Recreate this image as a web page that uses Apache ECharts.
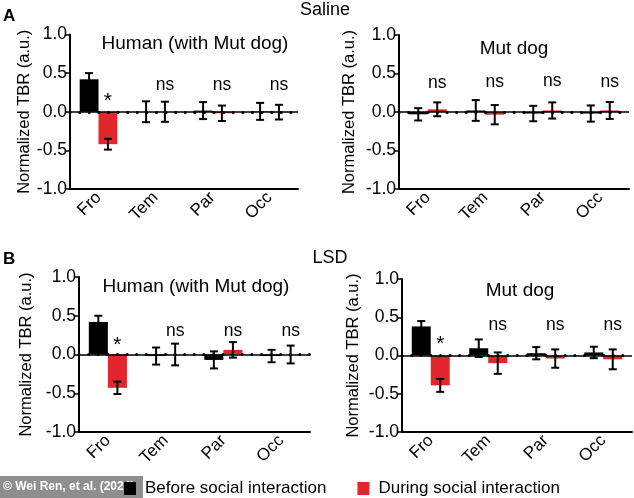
<!DOCTYPE html>
<html><head><meta charset="utf-8">
<script src="https://cdn.jsdelivr.net/npm/echarts@6/dist/echarts.min.js"></script>
<style>html,body{margin:0;padding:0;background:#fff}#c{width:634px;height:498px}</style>
</head><body><div id="c"></div>
<script>
const categories = ['Fro', 'Tem', 'Par', 'Occ'];
const yTicks = [-1, -0.5, 0, 0.5, 1];
const seriesNames = ['Before social interaction', 'During social interaction'];

// Saline, Human (with Mut dog)
const salHumBefore = [0.42, 0.00, 0.015, 0.005];
const salHumBeforeErr = [0.08, 0.135, 0.11, 0.11];
const salHumDuring = [-0.42, 0.00, -0.02, -0.005];
const salHumDuringErr = [0.07, 0.13, 0.10, 0.095];
const salHumSig = ['*', 'ns', 'ns', 'ns'];
const salHumSigY = [0.14, 0.34, 0.34, 0.34];

// Saline, Mut dog
const salDogBefore = [-0.03, 0.02, -0.02, -0.02];
const salDogBeforeErr = [0.08, 0.135, 0.10, 0.105];
const salDogDuring = [0.035, -0.035, 0.02, 0.02];
const salDogDuringErr = [0.09, 0.125, 0.105, 0.11];
const salDogSig = ['ns', 'ns', 'ns', 'ns'];
const salDogSigY = [0.38, 0.39, 0.40, 0.39];

// LSD, Human (with Mut dog)
const lsdHumBefore = [0.42, -0.02, -0.07, -0.02];
const lsdHumBeforeErr = [0.08, 0.11, 0.11, 0.08];
const lsdHumDuring = [-0.43, 0.00, 0.06, 0.00];
const lsdHumDuringErr = [0.08, 0.14, 0.10, 0.115];
const lsdHumSig = ['*', 'ns', 'ns', 'ns'];
const lsdHumSigY = [0.12, 0.30, 0.30, 0.30];

// LSD, Mut dog
const lsdDogBefore = [0.38, 0.095, 0.03, 0.04];
const lsdDogBeforeErr = [0.07, 0.115, 0.08, 0.075];
const lsdDogDuring = [-0.39, -0.10, -0.04, -0.05];
const lsdDogDuringErr = [0.085, 0.14, 0.12, 0.13];
const lsdDogSig = ['*', 'ns', 'ns', 'ns'];
const lsdDogSigY = [0.15, 0.40, 0.40, 0.40];

const RED = '#e3262b';
const FONT = 'Liberation Sans, Arial, sans-serif';
const CAT_GAP = 0.34;
const BAR_OFF = (1 - CAT_GAP) / 4; // fraction of band from center to bar center

const panels = [
  {b: salHumBefore, be: salHumBeforeErr, d: salHumDuring, de: salHumDuringErr, sig: salHumSig, sigY: salHumSigY,
   grid: {left: 70, top: 34.5, width: 228, height: 154.5}, nameGap: 36},
  {b: salDogBefore, be: salDogBeforeErr, d: salDogDuring, de: salDogDuringErr, sig: salDogSig, sigY: salDogSigY,
   grid: {left: 399, top: 35, width: 230, height: 154}, nameGap: 41},
  {b: lsdHumBefore, be: lsdHumBeforeErr, d: lsdHumDuring, de: lsdHumDuringErr, sig: lsdHumSig, sigY: lsdHumSigY,
   grid: {left: 79, top: 277, width: 231, height: 155}, nameGap: 44},
  {b: lsdDogBefore, be: lsdDogBeforeErr, d: lsdDogDuring, de: lsdDogDuringErr, sig: lsdDogSig, sigY: lsdDogSigY,
   grid: {left: 402, top: 279, width: 230, height: 153}, nameGap: 40}
];

function renderErr(params, api) {
  const ci = api.value(0), v = api.value(1), e = api.value(2), side = api.value(3);
  const band = api.size([1, 0])[0];
  const p1 = api.coord([ci, v + e]);
  const p2 = api.coord([ci, v - e]);
  const x = p1[0] + side * band * BAR_OFF;
  const cap = 4;
  const st = {stroke: '#000', lineWidth: 2};
  return {type: 'group', children: [
    {type: 'line', shape: {x1: x, y1: p1[1], x2: x, y2: p2[1]}, style: st},
    {type: 'line', shape: {x1: x - cap, y1: p1[1], x2: x + cap, y2: p1[1]}, style: st},
    {type: 'line', shape: {x1: x - cap, y1: p2[1], x2: x + cap, y2: p2[1]}, style: st}
  ]};
}
function makeSigRenderer(sig) {
  return function (params, api) {
    const ci = api.value(0), y = api.value(1);
    const band = api.size([1, 0])[0];
    const p = api.coord([ci, y]);
    const t = sig[params.dataIndex];
    return {type: 'text', x: p[0] + band * BAR_OFF, y: p[1],
      style: {text: t, font: (t === '*' ? '21px ' : '17.5px ') + FONT, fill: '#000',
        align: 'center', verticalAlign: 'middle', textAlign: 'center', textVerticalAlign: 'middle'}};
  };
}

const grids = [], xAxes = [], yAxes = [], series = [];
panels.forEach((p, i) => {
  grids.push(Object.assign({containLabel: false}, p.grid));
  xAxes.push({type: 'category', gridIndex: i, data: categories, position: 'bottom',
    axisLine: {onZero: false, lineStyle: {color: '#000', width: 2}},
    axisTick: {alignWithLabel: true, length: 5, lineStyle: {color: '#000', width: 1.5}},
    axisLabel: {rotate: 45, color: '#000', fontSize: 17, fontFamily: FONT, margin: 6}});
  yAxes.push({type: 'value', gridIndex: i, min: -1, max: 1, interval: 0.5,
    name: 'Normalized TBR (a.u.)', nameLocation: 'middle', nameGap: p.nameGap,
    nameTextStyle: {color: '#000', fontSize: 16.5, fontFamily: FONT},
    axisLine: {show: true, lineStyle: {color: '#000', width: 2}},
    axisTick: {show: true, length: 5, lineStyle: {color: '#000', width: 1.5}},
    splitLine: {show: false},
    axisLabel: {color: '#000', fontSize: 17.5, fontFamily: FONT, margin: 3,
      formatter: v => (yTicks.indexOf(v) >= 0 ? v.toFixed(1) : '')}});
  series.push({type: 'bar', name: seriesNames[0], xAxisIndex: i, yAxisIndex: i, data: p.b,
    itemStyle: {color: '#000'}, barGap: '0%', barCategoryGap: (CAT_GAP * 100) + '%', z: 2,
    markLine: {silent: true, symbol: 'none', label: {show: false},
      lineStyle: {color: '#000', width: 1.5, type: 'solid'}, data: [{yAxis: 0}], animation: false}});
  series.push({type: 'bar', name: seriesNames[1], xAxisIndex: i, yAxisIndex: i, data: p.d,
    itemStyle: {color: RED}, barGap: '0%', barCategoryGap: (CAT_GAP * 100) + '%', z: 2,
    markLine: {silent: true, symbol: 'none', label: {show: false},
      lineStyle: {color: '#000', width: 3, type: [0.1, 9.5], cap: 'round'}, data: [{yAxis: 0}], animation: false}});
  const errData = [];
  categories.forEach((c, k) => {
    errData.push([k, p.b[k], p.be[k], -1]);
    errData.push([k, p.d[k], p.de[k], 1]);
  });
  series.push({type: 'custom', xAxisIndex: i, yAxisIndex: i, data: errData, renderItem: renderErr, z: 5, silent: true});
  series.push({type: 'custom', xAxisIndex: i, yAxisIndex: i,
    data: categories.map((c, k) => [k, p.sigY[k]]),
    renderItem: makeSigRenderer(p.sig), z: 6, silent: true});
});

function txt(x, y, s, font, align) {
  return {type: 'text', x: x, y: y, z: 10,
    style: {text: s, font: font, fill: '#000', align: align || 'center', verticalAlign: 'middle',
      textAlign: align || 'center', textVerticalAlign: 'middle'}};
}

const option = {
  animation: false,
  backgroundColor: '#fff',
  grid: grids, xAxis: xAxes, yAxis: yAxes, series: series,
  legend: {left: 124, top: 480, itemWidth: 12, itemHeight: 13, itemGap: 31, icon: 'rect', padding: 0,
    data: seriesNames, textStyle: {color: '#000', fontSize: 17, fontFamily: FONT, padding: [0, 0, 0, 4]}, z: 20},
  graphic: [
    {type: 'rect', left: 0, top: 476, z: 1, shape: {width: 143, height: 22}, style: {fill: '#8e8e8e'}},
    {type: 'text', left: 3, top: 481, z: 2, style: {text: '\u00a9 Wei Ren, et al. (2024)', font: 'bold 12px ' + FONT, fill: '#fff'}},
    txt(3, 16, 'A', 'bold 17px ' + FONT, 'left'),
    txt(3, 259, 'B', 'bold 17px ' + FONT, 'left'),
    txt(325, 10, 'Saline', '18px ' + FONT),
    txt(330, 258, 'LSD', '18px ' + FONT),
    txt(195, 44, 'Human (with Mut dog)', '19px ' + FONT),
    txt(196, 287, 'Human (with Mut dog)', '19px ' + FONT),
    txt(514, 49, 'Mut dog', '19px ' + FONT),
    txt(520, 291, 'Mut dog', '19px ' + FONT)
  ]
};
const chart = echarts.init(document.getElementById('c'), null, {renderer: 'canvas'});
chart.setOption(option);
</script></body></html>
